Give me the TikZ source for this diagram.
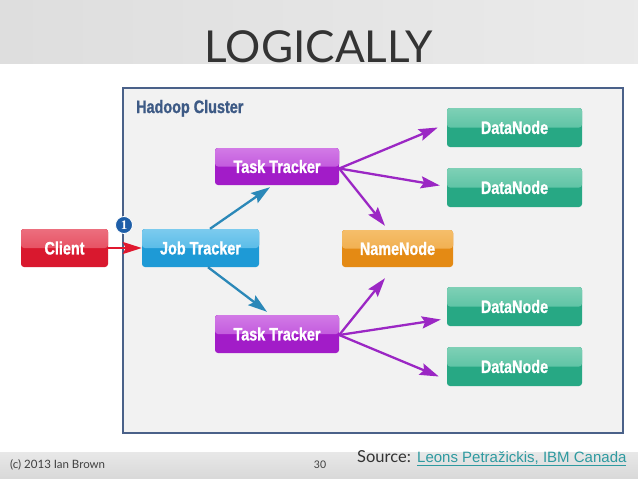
\documentclass[tikz,border=0pt]{standalone}
\usepackage{fontspec}
\setmainfont{Lato}
\newfontfamily\nf[FakeStretch=0.8,FakeBold=1.2]{Liberation Sans}
\newfontfamily\arialf{Liberation Sans}
\newfontfamily\serf{Liberation Serif}
\usetikzlibrary{arrows.meta}
\definecolor{cRedL}{HTML}{EC6F7E}\definecolor{cRedM}{HTML}{E2364A}\definecolor{cRed}{HTML}{D9182E}
\definecolor{cBluL}{HTML}{7CCBEE}\definecolor{cBluM}{HTML}{3AAEE3}\definecolor{cBlu}{HTML}{1E9AD6}
\definecolor{cPurL}{HTML}{D27AE6}\definecolor{cPurM}{HTML}{B43ED6}\definecolor{cPur}{HTML}{A21CC8}
\definecolor{cOraL}{HTML}{F5BE6A}\definecolor{cOraM}{HTML}{EDA23A}\definecolor{cOra}{HTML}{E48A14}
\definecolor{cTeaL}{HTML}{7FD0B6}\definecolor{cTeaM}{HTML}{3FB895}\definecolor{cTea}{HTML}{27A884}
\definecolor{cArrB}{HTML}{2B88B8}\definecolor{cArrP}{HTML}{9B27C4}\definecolor{cArrR}{HTML}{E0182F}
\definecolor{cFrame}{HTML}{4A6189}\definecolor{cHead}{HTML}{3D5A85}\definecolor{cLink}{HTML}{2E9AA0}
\definecolor{cBadge}{HTML}{1E5EA8}
\tikzset{
  box/.style={rounded corners=3pt, minimum height=38pt, inner sep=0pt, text=white,
    font=\nf\bfseries\fontsize{18}{18}\selectfont},
  glossy/.style n args={3}{fill=#3, path picture={
    \fill[top color=#1, bottom color=#2] (path picture bounding box.north west) rectangle (path picture bounding box.east);}},
  arr/.style={line width=2.3pt, -{Stealth[length=19pt,width=12pt,inset=3pt]}},
  txt/.style={inner sep=0pt, anchor=base west}
}
\begin{document}
\begin{tikzpicture}[x=1pt,y=-1pt]
\useasboundingbox (0,0) rectangle (638,479);
\fill[white] (0,0) rectangle (638,479);
% title bar
\fill[left color=black!13, right color=black!8] (0,0) rectangle (638,63);
\node[inner sep=0pt, anchor=base, text=black!80, font=\fontsize{44}{44}\selectfont] (title) at (319,62) {LOGICALLY};
% footer band
\fill[top color=black!9, bottom color=black!15] (0,452) rectangle (638,478);
% cluster
\draw[cFrame, line width=2pt, fill=black!5] (123,88) rectangle (623,433);
\node[txt, text=cHead, font=\nf\bfseries\fontsize{18}{18}\selectfont] (hc) at (136,113) {Hadoop Cluster};
% nodes
\node[box, glossy={cRedL}{cRedM}{cRed}, minimum width=87pt] (client) at (64.5,248) {Client};
\node[box, glossy={cBluL}{cBluM}{cBlu}, minimum width=117pt] (jt) at (200.5,248) {Job Tracker};
\node[box, glossy={cPurL}{cPurM}{cPur}, minimum width=124pt, minimum height=37pt] (tt1) at (277,166.5) {Task Tracker};
\node[box, glossy={cPurL}{cPurM}{cPur}, minimum width=124pt] (tt2) at (277,334) {Task Tracker};
\node[box, glossy={cOraL}{cOraM}{cOra}, minimum width=111pt, minimum height=37pt] (nn) at (397.5,248.5) {NameNode};
\node[box, glossy={cTeaL}{cTeaM}{cTea}, minimum width=135pt, minimum height=39pt] (dn1) at (514.5,127.5) {DataNode};
\node[box, glossy={cTeaL}{cTeaM}{cTea}, minimum width=135pt, minimum height=39pt] (dn2) at (514.5,187.5) {DataNode};
\node[box, glossy={cTeaL}{cTeaM}{cTea}, minimum width=135pt, minimum height=39pt] (dn3) at (514.5,306.5) {DataNode};
\node[box, glossy={cTeaL}{cTeaM}{cTea}, minimum width=135pt, minimum height=39pt] (dn4) at (514.5,366.5) {DataNode};
% arrows
\draw[arr, cArrR, line width=2pt] (client.east) -- (jt.west);
\draw[arr, cArrB] ([xshift=9.5pt]jt.north) -- ([xshift=-7pt,yshift=-2pt]tt1.south);
\draw[arr, cArrB] ([xshift=7.5pt]jt.south) -- ([xshift=-10pt,yshift=3pt]tt2.north);
\draw[arr, cArrP] ([yshift=-2pt]tt1.east) -- ([xshift=-9pt]dn1.west);
\draw[arr, cArrP] ([yshift=-2pt]tt1.east) -- ([xshift=-7pt,yshift=2pt]dn2.west);
\draw[arr, cArrP] ([yshift=-2pt]tt1.east) -- ([xshift=-12.5pt,yshift=4pt]nn.north);
\draw[arr, cArrP] ([yshift=-1pt]tt2.east) -- ([xshift=-12.5pt,yshift=-11pt]nn.south);
\draw[arr, cArrP] ([yshift=-1pt]tt2.east) -- ([xshift=-6pt,yshift=-13pt]dn3.west);
\draw[arr, cArrP] ([yshift=-1pt]tt2.east) -- ([xshift=-8pt,yshift=-10pt]dn4.west);
% badge
\node[circle, fill=cBadge, draw=white, line width=0.8pt, minimum size=17pt, inner sep=0pt, text=white,
  font=\serf\bfseries\fontsize{13}{13}\selectfont] (one) at (124,225) {1};
% footer texts
\node[txt, text=black!75, font=\fontsize{11.5}{11.5}\selectfont] (copy) at (10,468) {(c) 2013 Ian Brown};
\node[inner sep=0pt, anchor=base, text=black!75, font=\fontsize{10.5}{10.5}\selectfont] (pg) at (320,468) {30};
\node[txt, text=black!80, font=\fontsize{16.5}{16.5}\selectfont] (src) at (357,462) {Source:};
\node[txt, text=cLink, font=\arialf\fontsize{15}{15}\selectfont] (lnk) at (417,462) {\underline{Leons Petražickis, IBM Canada}};
\end{tikzpicture}
\end{document}
